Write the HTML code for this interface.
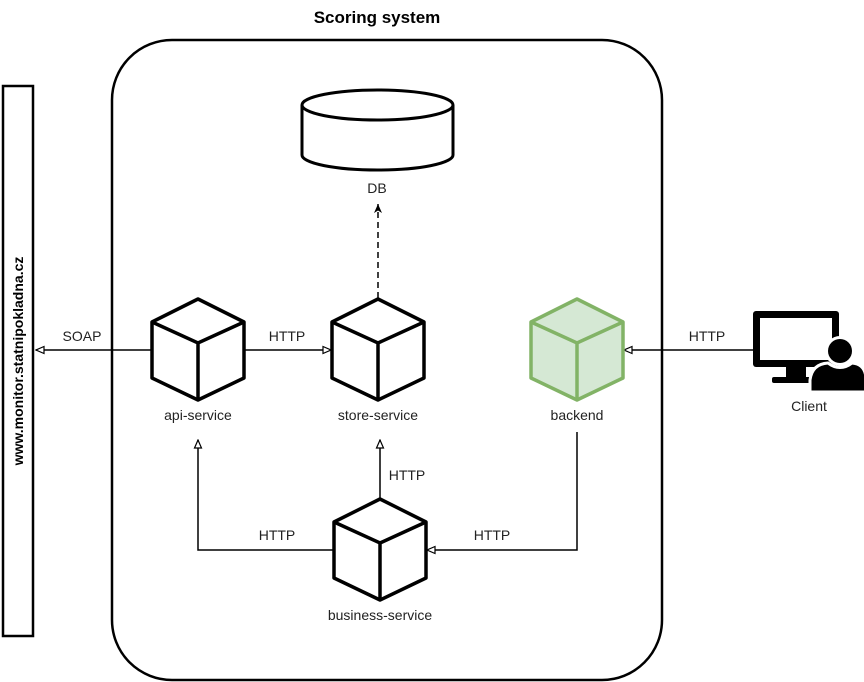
<!DOCTYPE html>
<html><head><meta charset="utf-8"><style>body{margin:0;background:#fff}svg{display:block}text{font-family:"Liberation Sans",sans-serif;font-size:14px;fill:#222}</style></head><body>
<svg width="864" height="682" viewBox="0 0 864 682">
<defs>
<marker id="open" markerWidth="10" markerHeight="10" refX="9" refY="5" orient="auto" markerUnits="userSpaceOnUse"><path d="M1,1.5 L9,5 L1,8.5 Z" fill="#fff" stroke="#000" stroke-width="1.2"/></marker>
<marker id="fill" markerWidth="10" markerHeight="10" refX="9" refY="5" orient="auto" markerUnits="userSpaceOnUse"><path d="M0,1 L9,5 L0,9 L2.5,5 Z" fill="#000"/></marker>
<g id="cube"><path d="M0,-51 L46,-28 L46,28 L0,50 L-46,28 L-46,-28 Z" stroke-width="3.5" stroke-linejoin="round"/><path d="M-46,-28 L0,-7 L46,-28 M0,-7 L0,50" fill="none" stroke-width="3.5"/></g>
</defs>
<text x="377" y="23" text-anchor="middle" style="font-weight:bold;font-size:17px;fill:#000">Scoring system</text>
<rect x="112" y="40" width="550" height="640" rx="60" fill="#fff" stroke="#000" stroke-width="2.5"/>
<rect x="3" y="86" width="30" height="550" fill="#fff" stroke="#000" stroke-width="2.5"/>
<text transform="translate(23,361) rotate(-90)" text-anchor="middle" style="font-weight:bold;fill:#000">www.monitor.statnipokladna.cz</text>
<path d="M302,105 L302,155 A75.5,15 0 0 0 453,155 L453,105" fill="#fff" stroke="#000" stroke-width="3"/>
<ellipse cx="377.5" cy="105" rx="75.5" ry="15" fill="#fff" stroke="#000" stroke-width="3"/>
<text x="377" y="193" text-anchor="middle">DB</text>
<line x1="378" y1="298" x2="378" y2="204" stroke="#000" stroke-width="1.5" stroke-dasharray="6,4" marker-end="url(#fill)"/>
<line x1="152" y1="350" x2="36" y2="350" stroke="#000" stroke-width="1.5" marker-end="url(#open)"/>
<text x="82" y="341" text-anchor="middle">SOAP</text>
<line x1="244" y1="350" x2="331" y2="350" stroke="#000" stroke-width="1.5" marker-end="url(#open)"/>
<text x="287" y="341" text-anchor="middle">HTTP</text>
<line x1="753" y1="350" x2="624" y2="350" stroke="#000" stroke-width="1.5" marker-end="url(#open)"/>
<text x="707" y="341" text-anchor="middle">HTTP</text>
<polyline points="334,550 198,550 198,440" fill="none" stroke="#000" stroke-width="1.5" marker-end="url(#open)"/>
<text x="277" y="540" text-anchor="middle">HTTP</text>
<line x1="380" y1="499" x2="380" y2="440" stroke="#000" stroke-width="1.5" marker-end="url(#open)"/>
<text x="407" y="480" text-anchor="middle">HTTP</text>
<polyline points="577,432 577,550 427,550" fill="none" stroke="#000" stroke-width="1.5" marker-end="url(#open)"/>
<text x="492" y="540" text-anchor="middle">HTTP</text>
<use href="#cube" x="198" y="350" fill="#fff" stroke="#000"/>
<use href="#cube" x="378" y="350" fill="#fff" stroke="#000"/>
<use href="#cube" x="577" y="350" fill="#d5e8d4" stroke="#82b366"/>
<use href="#cube" x="380" y="550" fill="#fff" stroke="#000"/>
<text x="198" y="420" text-anchor="middle">api-service</text>
<text x="378" y="420" text-anchor="middle">store-service</text>
<text x="577" y="420" text-anchor="middle">backend</text>
<text x="380" y="620" text-anchor="middle">business-service</text>
<rect x="753" y="311" width="86" height="56" rx="3" fill="#000"/>
<rect x="760" y="318" width="72" height="42" fill="#fff"/>
<rect x="786" y="366" width="20" height="12" fill="#000"/>
<rect x="772" y="377" width="48" height="6" rx="2" fill="#000"/>
<circle cx="840" cy="351" r="15" fill="#fff"/>
<circle cx="840" cy="351" r="12" fill="#000"/>
<path d="M810,392 L810,380 Q812,364 828,363 Q840,372 852,363 Q866,364 866,380 L866,392 Z" fill="#000" stroke="#fff" stroke-width="3"/>
<text x="809" y="411" text-anchor="middle">Client</text>
</svg>
</body></html>
